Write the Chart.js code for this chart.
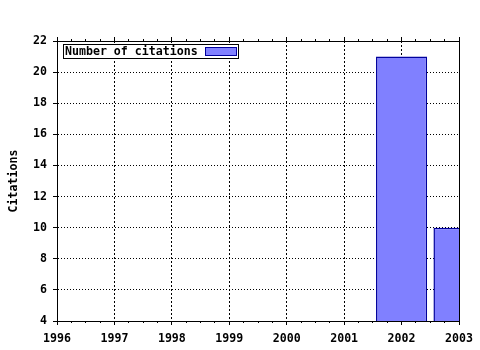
<!DOCTYPE html>
<html>
<head>
<meta charset="utf-8">
<script src="https://cdn.jsdelivr.net/npm/chart.js@4/dist/chart.umd.min.js"></script>
<style>
  html, body { margin: 0; padding: 0; background: #ffffff; }
  canvas { display: block; }
</style>
</head>
<body>
<canvas id="c" width="480" height="350"></canvas>
<script>
// ---- data ----
const years = [2002, 2003];
const citations = [21, 10];
const seriesLabel = 'Number of citations';
const yTitle = 'Citations';
const xRange = [1996, 2003];
const yRange = [4, 22];
const yStep = 2;

// ---- styles ----
const FONT = { family: '"DejaVu Sans Mono", "Liberation Mono", monospace', size: 11.6, weight: 'bold' };
const BAR_FILL = '#8080ff';
const BAR_EDGE = '#00009c';

const boxedLegend = {
  id: 'boxedLegend',
  afterDraw(chart) {
    const ctx = chart.ctx;
    const area = chart.chartArea;
    const ds = chart.data.datasets[0];
    ctx.save();
    ctx.font = `${FONT.weight} ${FONT.size}px ${FONT.family}`;
    const tw = ctx.measureText(ds.label).width;
    const fx = Math.round(area.left + 6) + 0.5;
    const fy = Math.round(area.top + 3) + 0.5;
    const tx = fx + 1.5;
    const sx = Math.round(tx + tw + 7) + 0.5;
    const sw = 31, sh = 8;
    const fw = (sx + sw + 2) - fx;
    const fh = 14;
    ctx.fillStyle = '#ffffff';
    ctx.fillRect(fx, fy, fw, fh);
    ctx.strokeStyle = '#000000';
    ctx.lineWidth = 1;
    ctx.strokeRect(fx, fy, fw, fh);
    ctx.fillStyle = '#000000';
    ctx.textBaseline = 'middle';
    ctx.textAlign = 'left';
    ctx.fillText(ds.label, tx, fy + fh / 2 + 0.5);
    ctx.fillStyle = ds.backgroundColor;
    ctx.fillRect(sx, fy + 3, sw, sh);
    ctx.strokeStyle = ds.borderColor;
    ctx.strokeRect(sx, fy + 3, sw, sh);
    ctx.restore();
  }
};

const yearLabel = v => Number.isInteger(v) ? String(v) : '';

new Chart(document.getElementById('c'), {
  type: 'bar',
  data: {
    datasets: [{
      label: seriesLabel,
      data: years.map((y, i) => ({ x: y, y: citations[i] })),
      backgroundColor: BAR_FILL,
      borderColor: BAR_EDGE,
      borderWidth: 1.5,
      borderSkipped: false,
      inflateAmount: 0,
      barPercentage: 0.89,
      categoryPercentage: 1,
      clip: 0,
      xAxisID: 'x',
      yAxisID: 'y'
    }]
  },
  options: {
    responsive: false,
    animation: false,
    events: [],
    layout: { padding: 0 },
    plugins: { legend: { display: false }, tooltip: { enabled: false } },
    scales: {
      x: {
        type: 'linear', position: 'bottom', weight: 1, offset: false,
        min: xRange[0], max: xRange[1],
        ticks: { stepSize: 1, callback: yearLabel, autoSkip: false, maxRotation: 0, minRotation: 0,
                 color: '#000', font: FONT, padding: 7 },
        grid: { offset: false, color: '#000', lineWidth: 1, tickLength: 4, tickColor: '#000' },
        border: { display: true, color: '#000', width: 1, dash: [2, 2], z: 1 },
        afterFit(s) { s.height = 29; }
      },
      xMinor: {
        type: 'linear', position: 'bottom', weight: 0, offset: false,
        min: xRange[0], max: xRange[1],
        ticks: { stepSize: 0.25, display: false, autoSkip: false },
        grid: { offset: false, drawOnChartArea: false, tickLength: 2, tickColor: '#000' },
        border: { display: false },
        afterFit(s) { s.height = 0; }
      },
      xTop: {
        type: 'linear', position: 'top', weight: 1, offset: false,
        min: xRange[0], max: xRange[1],
        ticks: { stepSize: 1, display: false, autoSkip: false },
        grid: { offset: false, drawOnChartArea: false, tickLength: 4, tickColor: '#000' },
        border: { display: true, color: '#000', width: 1, z: 1 },
        afterFit(s) { s.height = 41; }
      },
      xTopMinor: {
        type: 'linear', position: 'top', weight: 0, offset: false,
        min: xRange[0], max: xRange[1],
        ticks: { stepSize: 0.25, display: false, autoSkip: false },
        grid: { offset: false, drawOnChartArea: false, tickLength: 2, tickColor: '#000' },
        border: { display: false },
        afterFit(s) { s.height = 0; }
      },
      y: {
        type: 'linear', position: 'left',
        min: yRange[0], max: yRange[1],
        ticks: { stepSize: yStep, callback: v => String(v), color: '#000', font: FONT, padding: 6 },
        grid: { color: '#000', lineWidth: 1, tickLength: 4, tickColor: '#000' },
        border: { display: true, color: '#000', width: 1, dash: [1, 2], z: 1 },
        title: { display: true, text: yTitle, color: '#000', font: FONT, padding: { top: 7, bottom: 0 } },
        afterFit(s) { s.width = 57; }
      },
      y2: {
        type: 'linear', position: 'right',
        min: yRange[0], max: yRange[1],
        ticks: { display: false },
        grid: { drawOnChartArea: false, drawTicks: false },
        border: { display: true, color: '#000', width: 1, z: 1 },
        afterFit(s) { s.width = 21; }
      }
    }
  },
  plugins: [boxedLegend]
});
</script>
</body>
</html>
